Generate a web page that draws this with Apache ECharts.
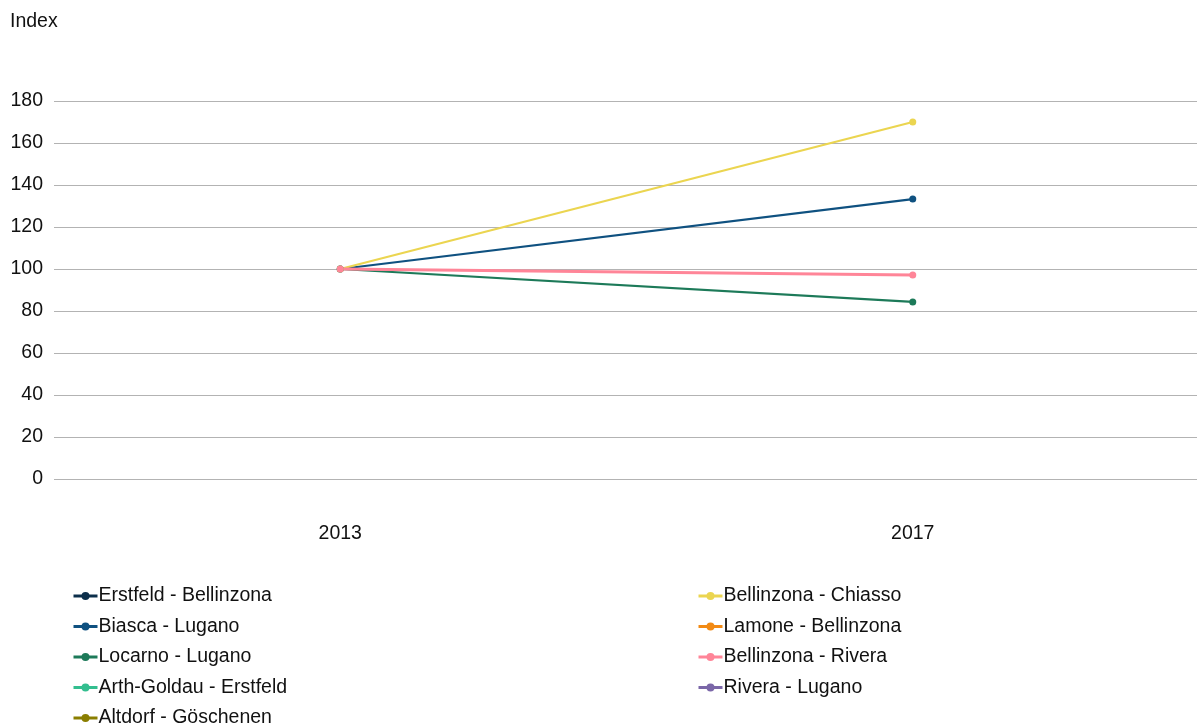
<!DOCTYPE html>
<html><head><meta charset="utf-8">
<script src="https://cdn.jsdelivr.net/npm/echarts@6/dist/echarts.min.js"></script>
<style>html,body{margin:0;padding:0;background:#fff}#c{width:1197px;height:727px}</style>
</head><body><div id="c"></div>
<script>
const years = ['2013', '2017'];
const yTicks = [0, 20, 40, 60, 80, 100, 120, 140, 160, 180];
const erstfeldBellinzona = [null, null];
const biascaLugano = [100, 133.3];
const locarnoLugano = [100, 84.3];
const arthGoldauErstfeld = [null, null];
const altdorfGoschenen = [null, null];
const bellinzonaChiasso = [100, 170];
const lamoneBellinzona = [null, null];
const bellinzonaRivera = [100, 97.1];
const riveraLugano = [null, null];

const seriesDefs = [
  ['Erstfeld - Bellinzona', erstfeldBellinzona, '#0c2f4b'],
  ['Biasca - Lugano', biascaLugano, '#0f5180'],
  ['Locarno - Lugano', locarnoLugano, '#1d7a59'],
  ['Arth-Goldau - Erstfeld', arthGoldauErstfeld, '#33be8f'],
  ['Altdorf - Göschenen', altdorfGoschenen, '#8a7e00'],
  ['Bellinzona - Chiasso', bellinzonaChiasso, '#ebd550'],
  ['Lamone - Bellinzona', lamoneBellinzona, '#f28a14'],
  ['Bellinzona - Rivera', bellinzonaRivera, '#ff8598'],
  ['Rivera - Lugano', riveraLugano, '#7b67a8']
];
const drawOrder = [0,3,4,6,8,2,1,5,7];
const font = 'Liberation Sans, Arial, sans-serif';
const fs = 19.5;
const chart = echarts.init(document.getElementById('c'));
const legendText = {fontSize: fs, color: '#111', fontFamily: font, lineHeight: 20, padding: [0,0,0,-4]};
const legendCommon = {top: 586, height: 160, orient: 'vertical', itemGap: 10.5, itemWidth: 24, itemHeight: 10, padding: 0,
  textStyle: legendText, selectedMode: false, lineStyle: {width: 3}};
chart.setOption({
  animation: false,
  textStyle: {fontFamily: font},
  title: {text: 'Index', left: 10, top: 12, padding: 0,
    textStyle: {fontSize: fs, fontWeight: 'normal', color: '#111', fontFamily: font}},
  grid: {left: 54, right: -2, top: 101, bottom: 248, containLabel: false, outerBoundsMode: 'none'},
  xAxis: {
    type: 'category', data: years, boundaryGap: true,
    axisLine: {show: false}, axisTick: {show: false},
    axisLabel: {fontSize: fs, color: '#111', margin: 45, fontFamily: font}
  },
  yAxis: {
    type: 'value', min: 0, max: 180, interval: 20,
    axisLine: {show: false}, axisTick: {show: false},
    axisLabel: {fontSize: fs, color: '#111', margin: 11, fontFamily: font,
      formatter: v => yTicks.includes(v) ? String(v) : ''},
    splitLine: {lineStyle: {color: '#b3b3b3', width: 1}}
  },
  legend: [
    Object.assign({left: 72, data: seriesDefs.slice(0,5).map(d=>d[0])}, legendCommon),
    Object.assign({left: 697, data: seriesDefs.slice(5).map(d=>d[0])}, legendCommon)
  ],
  series: drawOrder.map(i => {
    const d = seriesDefs[i];
    return {
      name: d[0], type: 'line', data: d[1], color: d[2],
      symbol: 'circle', symbolSize: 7, showSymbol: true,
      lineStyle: {width: d[0] === 'Bellinzona - Rivera' ? 3 : 2.2, color: d[2]},
      itemStyle: {color: d[2]}
    };
  })
});
</script></body></html>
